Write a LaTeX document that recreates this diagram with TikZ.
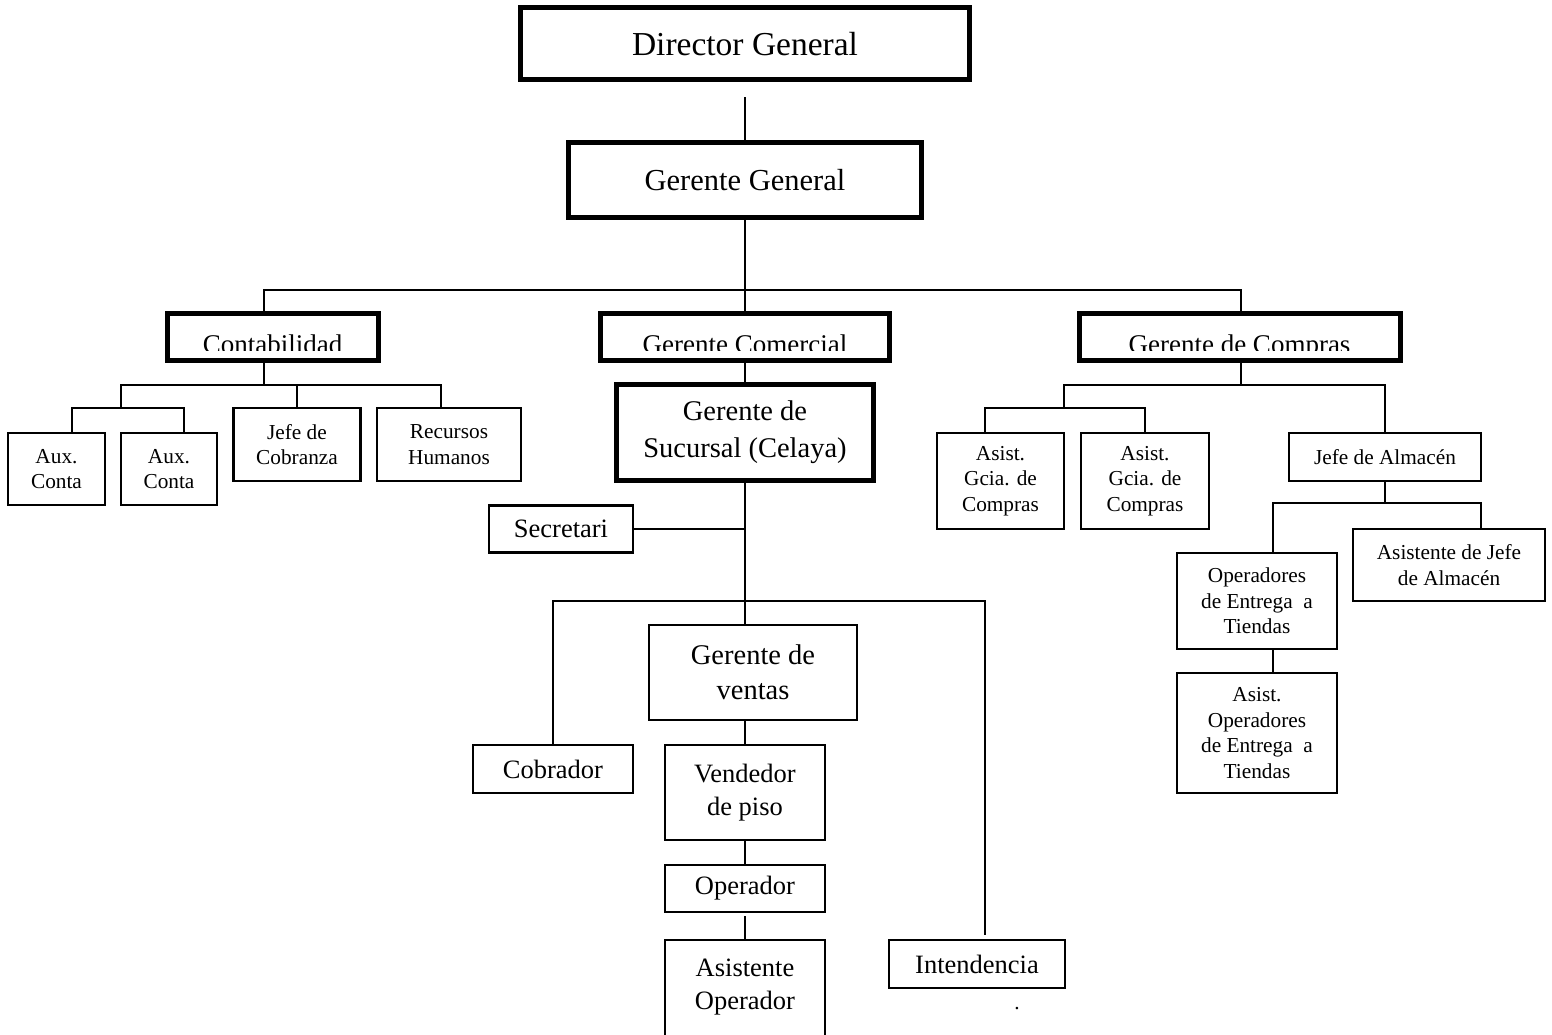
\documentclass[tikz,border=0pt]{standalone}
\usepackage{fontspec}
\setmainfont{Liberation Serif}
\usepackage{tikz}
\usetikzlibrary{positioning}

\tikzset{
  caja/.style={draw,line width=2.2pt,inner sep=0pt,align=center},
  jefe/.style={caja,line width=5pt},
  chica/.style={font=\fontsize{21.3}{25.5}\selectfont},
  media/.style={font=\fontsize{26.5}{33}\selectfont},
  grande/.style={font=\fontsize{27}{36}\selectfont},
  titulo/.style={font=\fontsize{33.5}{38}\selectfont}
}

\begin{document}
\begin{tikzpicture}[x=1pt,y=-1pt,line width=2.2pt]
\useasboundingbox (0,0) rectangle (1552,1035);
\clip (0,0) rectangle (1552,1035);

% direccion
\node[jefe,titulo,minimum width=449,minimum height=72](dir)at(745,44){Director General};
\node[jefe,font=\fontsize{30.5}{36}\selectfont,minimum width=353,minimum height=74](gg)at(745,180){Gerente General};

% segundo nivel (texto cortado por abajo)
\node[jefe,minimum width=211,minimum height=47](cont)at(272.5,336.5){};
\node[jefe,minimum width=289,minimum height=47](gcom)at(745,336.5){};
\node[jefe,minimum width=321,minimum height=47](gcomp)at(1239.5,336.5){};
\begin{scope}
\clip(0,300)rectangle(1552,350);
\node[grande,anchor=base](contT)at(272.5,353){Contabilidad};
\node[grande,anchor=base](gcomT)at(745,353){Gerente Comercial};
\node[grande,anchor=base](gcompT)at(1239.5,353){Gerente de Compras};
\end{scope}

% contabilidad
\node[caja,chica,minimum width=97,minimum height=72](aux1)at(56.5,469){Aux.\\Conta};
\node[caja,chica,minimum width=96,minimum height=72](aux2)at(169,469){Aux.\\Conta};
\node[caja,chica,minimum width=127,minimum height=73](jcob)at(297,444.5){Jefe de\\Cobranza};
\node[caja,chica,minimum width=144,minimum height=73](rrhh)at(449,444.5){Recursos\\Humanos};

% comercial
\node[jefe,font=\fontsize{28.5}{37}\selectfont,minimum width=257,minimum height=96](suc)at(745,432){Gerente de\\Sucursal (Celaya)};
\node[caja,media,minimum width=144,minimum height=47](secr)at(561,529){Secretari};
\node[caja,font=\fontsize{28.5}{35}\selectfont,minimum width=208,minimum height=95](gven)at(753,672.5){Gerente de\\ventas};
\node[caja,media,minimum width=160,minimum height=48](cob)at(553,769){Cobrador};
\node[caja,media,minimum width=160,minimum height=95](vend)at(745,792.5){Vendedor\\de piso};
\node[caja,media,minimum width=160,minimum height=47](oper)at(745,888.5){Operador};
\node[caja,minimum width=160,minimum height=120](asop)at(745,1000){};
\node[media,align=center](asopT)at(745,987){Asistente\\Operador};
\node[caja,media,minimum width=176,minimum height=48](inten)at(977,964){Intendencia};
\node[chica](punto)at(1017,1009){.};

% compras
\node[caja,chica,minimum width=127,minimum height=96](agc1)at(1000.5,481){Asist.\\Gcia. de\\Compras};
\node[caja,chica,minimum width=128,minimum height=96](agc2)at(1145,481){Asist.\\Gcia. de\\Compras};
\node[caja,chica,minimum width=192,minimum height=48](jalm)at(1385,457){Jefe de Almac\'en};
\node[caja,chica,minimum width=160,minimum height=96](opent)at(1257,601){Operadores\\de Entrega~ a\\Tiendas};
\node[caja,chica,minimum width=192,minimum height=72](asjefe)at(1449,565){Asistente de Jefe\\de Almac\'en};
\node[caja,chica,minimum width=160,minimum height=120](asopent)at(1257,733){Asist.\\Operadores\\de Entrega~ a\\Tiendas};

% lineas
\coordinate(b1)at(745,290);
\coordinate(b2)at(264,385);
\coordinate(b3)at(121,408);
\coordinate(b4)at(745,601);
\coordinate(b6)at(1241,385);
\coordinate(b7)at(1064,408);
\coordinate(b8)at(1385,503);

\draw[shorten <=15pt](dir)--(gg);
\draw(gg.south)--(b1);
\draw([xshift=-8.5pt]cont.north)|-(b1)-|([xshift=1.5pt]gcomp.north);
\draw(b1)--(gcom.north);

\draw([xshift=-8.5pt]cont.south)--(b2);
\draw(b3)|-(b2)-|([xshift=-8pt]rrhh.north);
\draw(jcob.north)--(jcob.north|-b2);
\draw([xshift=15.5pt]aux1.north)|-(b3)-|([xshift=15pt]aux2.north);

\draw(gcom)--(suc);
\draw(suc.south)--(suc.south|-gven.north);
\draw(secr.east)--(secr.east-|suc.south);
\draw[shorten >=4pt](cob.north)|-(b4)-|([xshift=8pt]inten.north);
\draw(gven.south-|vend.north)--(vend.north);
\draw(vend)--(oper);
\draw[shorten <=3pt](oper)--(asop);

\draw([xshift=1.5pt]gcomp.south)--(b6);
\draw(b7)|-(b6)-|(jalm.north);
\draw([xshift=-15.5pt]agc1.north)|-(b7)-|(agc2.north);
\draw(jalm.south)--(b8);
\draw([xshift=16pt]opent.north)|-(b8)-|([xshift=32pt]asjefe.north);
\draw([xshift=16pt]opent.south)--([xshift=16pt]asopent.north);
\end{tikzpicture}
\end{document}
